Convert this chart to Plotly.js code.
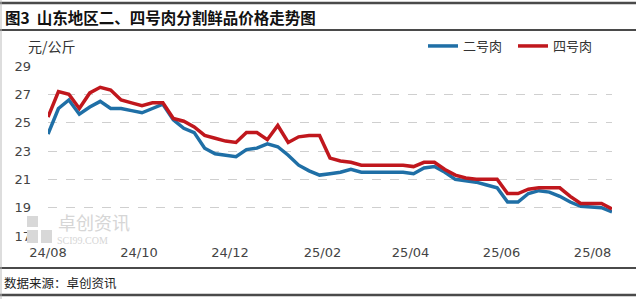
<!DOCTYPE html>
<html>
<head>
<meta charset="utf-8">
<script src="https://cdn.plot.ly/plotly-3.0.1.min.js"></script>
<style>html,body{margin:0;padding:0;background:#fff;}#chart{width:640px;height:299px;}</style>
</head>
<body>
<div id="chart"></div>
<script>
// Weekly observations starting 2024-08-01
const startDate = '2024-08-01';
const pork2 = [24.2, 26.0, 26.6, 25.6, 26.1, 26.5, 26.0, 26.0, 25.85, 25.7,
               26.0, 26.3, 25.2, 24.6, 24.3, 23.2, 22.8, 22.7, 22.6, 23.1,
               23.2, 23.5, 23.3, 22.7, 22.0, 21.6, 21.3, 21.4, 21.5, 21.7,
               21.5, 21.5, 21.5, 21.5, 21.5, 21.4, 21.8, 21.9, 21.5, 21.0,
               20.9, 20.8, 20.6, 20.4, 19.4, 19.4, 20.0, 20.2, 20.1, 19.8,
               19.4, 19.1, 19.05, 19.0, 18.7];
const pork4 = [25.4, 27.2, 27.0, 26.0, 27.1, 27.5, 27.3, 26.6, 26.4, 26.2,
               26.4, 26.4, 25.3, 25.1, 24.7, 24.1, 23.9, 23.7, 23.6, 24.3,
               24.3, 23.8, 24.8, 23.6, 24.0, 24.1, 24.1, 22.5, 22.3, 22.2,
               22.0, 22.0, 22.0, 22.0, 22.0, 21.9, 22.2, 22.2, 21.7, 21.3,
               21.1, 21.0, 21.0, 21.0, 20.0, 20.0, 20.3, 20.4, 20.4, 20.4,
               19.8, 19.3, 19.3, 19.3, 18.9];
const seriesNames = ['二号肉', '四号肉'];
const xTickVals = ['2024-08-01', '2024-10-01', '2024-12-01', '2025-02-01', '2025-04-01', '2025-06-01', '2025-08-01'];
const xTickText = ['24/08', '24/10', '24/12', '25/02', '25/04', '25/06', '25/08'];
const yTickVals = [17, 19, 21, 23, 25, 27, 29];

function weeklyDates(n) {
  const out = [];
  const d0 = new Date(startDate + 'T00:00:00Z');
  for (let i = 0; i < n; i++) {
    const d = new Date(d0.getTime() + i * 7 * 86400000);
    out.push(d.toISOString().slice(0, 10));
  }
  return out;
}
const dates = weeklyDates(pork2.length);

const font = 'Noto Sans CJK SC, sans-serif';
const traces = [
  {x: dates, y: pork2, name: seriesNames[0], type: 'scatter', mode: 'lines',
   line: {color: '#1f6fa6', width: 3.5}, legend: 'legend'},
  {x: dates, y: pork4, name: seriesNames[1], type: 'scatter', mode: 'lines',
   line: {color: '#c0171d', width: 3.5}, legend: 'legend2'}
];

const plotW = 640 - 48 - 28, plotH = 299 - 66 - 63;
function px2x(px) { return (px - 48) / plotW; }
function py2y(py) { return (236 - py) / plotH; }

const frame = [
  {y: 3, w: 2.5}, {y: 30, w: 2}, {y: 268, w: 2}, {y: 295, w: 2.5}
].map(function (f) {
  return {type: 'line', xref: 'paper', yref: 'paper', x0: px2x(0), x1: px2x(636),
          y0: py2y(f.y), y1: py2y(f.y), line: {color: '#4a4a4a', width: f.w}};
});
frame.push({type: 'line', xref: 'paper', yref: 'paper', x0: px2x(1), x1: px2x(1),
            y0: py2y(0), y1: py2y(299), line: {color: '#bbb', width: 1}});

const watermark = [
  {type: 'rect', xref: 'paper', yref: 'paper', x0: px2x(27), x1: px2x(38), y0: py2y(227), y1: py2y(216), fillcolor: '#d8d8d8', line: {width: 0}},
  {type: 'rect', xref: 'paper', yref: 'paper', x0: px2x(27), x1: px2x(38), y0: py2y(243), y1: py2y(230), fillcolor: '#d8d8d8', line: {width: 0}},
  {type: 'rect', xref: 'paper', yref: 'paper', x0: px2x(41), x1: px2x(52), y0: py2y(243), y1: py2y(230), fillcolor: '#d8d8d8', line: {width: 0}}
];

const legendBase = {orientation: 'h', xanchor: 'left', yanchor: 'middle',
  font: {size: 13, color: '#333', family: font}, itemwidth: 30, bgcolor: 'rgba(0,0,0,0)'};

const layout = {
  width: 640, height: 299,
  margin: {l: 48, r: 28, t: 66, b: 63},
  paper_bgcolor: '#fff', plot_bgcolor: '#fff',
  font: {family: font, color: '#333'},
  showlegend: true,
  legend: Object.assign({}, legendBase, {x: px2x(423), y: py2y(46)}),
  legend2: Object.assign({}, legendBase, {x: px2x(513), y: py2y(46)}),
  xaxis: {type: 'date', range: [dates[0], dates[dates.length - 1]],
          tickvals: xTickVals, ticktext: xTickText, showgrid: false, zeroline: false,
          showline: false, ticks: '', tickfont: {size: 13, color: '#444', family: 'DejaVu Sans, sans-serif'},
          ticklabelstandoff: 7, automargin: false},
  yaxis: {range: [17, 29], tickvals: yTickVals, showgrid: true, gridcolor: '#cfcfcf',
          griddash: 'dash', gridwidth: 1, zeroline: false, showline: false, ticks: '',
          tickfont: {size: 13, color: '#444', family: 'DejaVu Sans, sans-serif'},
          ticklabelstandoff: 16, automargin: false},
  annotations: [
    {xref: 'paper', yref: 'paper', x: px2x(3), y: py2y(17), xanchor: 'left', yanchor: 'middle',
     text: '<b>图3  山东地区二、四号肉分割鲜品价格走势图</b>', showarrow: false,
     font: {size: 15.5, color: '#111', family: font}},
    {xref: 'paper', yref: 'paper', x: px2x(26), y: py2y(46), xanchor: 'left', yanchor: 'middle',
     text: '元/公斤', showarrow: false, font: {size: 14, color: '#333', family: font}},
    {xref: 'paper', yref: 'paper', x: px2x(2), y: py2y(282), xanchor: 'left', yanchor: 'middle',
     text: '数据来源：卓创资讯', showarrow: false, font: {size: 12.5, color: '#222', family: font}},
    {xref: 'paper', yref: 'paper', x: px2x(56), y: py2y(222), xanchor: 'left', yanchor: 'middle',
     text: '卓创资讯', showarrow: false, font: {size: 18, color: '#d6d6d6', family: font}},
    {xref: 'paper', yref: 'paper', x: px2x(55), y: py2y(240), xanchor: 'left', yanchor: 'middle',
     text: 'SCI99.COM', showarrow: false, font: {size: 10, color: '#d6d6d6', family: 'Liberation Serif, serif'}}
  ],
  shapes: watermark.concat(frame)
};

Plotly.newPlot('chart', traces, layout, {staticPlot: true, displayModeBar: false});
</script>
</body>
</html>
